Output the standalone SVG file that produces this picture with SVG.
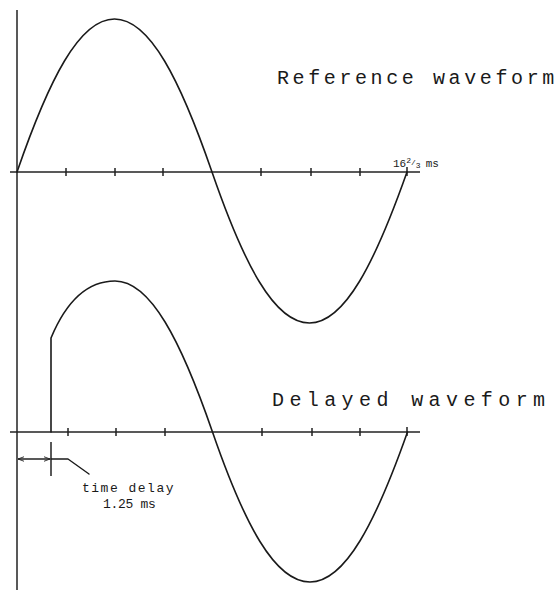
<svg xmlns="http://www.w3.org/2000/svg" width="560" height="592" viewBox="0 0 560 592">
<defs>
<style>
.ln{fill:none;stroke:#1a1a1a;stroke-width:1.6;stroke-linecap:round;stroke-linejoin:round}
.ax{fill:none;stroke:#222;stroke-width:1.5}
.tk{stroke:#222;stroke-width:1.5}
.lbl{font-family:"Liberation Mono","DejaVu Sans Mono",monospace;fill:#1a1a1a}
</style>
<marker id="ah" viewBox="0 0 8 8" refX="8" refY="4" markerWidth="6" markerHeight="6" orient="auto-start-reverse" markerUnits="userSpaceOnUse">
<path d="M0,1 L8,4 L0,7" fill="none" stroke="#222" stroke-width="1.2"/>
</marker>
</defs>
<rect width="560" height="592" fill="#fff"/>
<g id="axes">
<line class="ax" x1="17" y1="10" x2="17" y2="590"/>
<line class="ax" x1="10" y1="172" x2="420" y2="172"/>
<line class="ax" x1="10" y1="432" x2="420" y2="432"/>
<path class="tk" d="M66,168v8M115,168v8M163,168v8M261,168v8M311,168v8M360,168v8M407,167v9"/>
<path class="tk" d="M68,428v8M116,428v8M165,428v8M262,428v8M312,428v8M360,428v8M407,427v9"/>
</g>
<g id="reference-waveform">
<path class="ln" d="M17,172 C48.8,80 79.2,19 114.5,19 C149.8,19 180.2,80 212,172 C243.8,264 274.2,323 309.5,323 C344.8,323 375.2,262 407,172"/>
</g>
<g id="delayed-waveform">
<path class="ln" d="M51,432 L51,338 C66,302 86,281 115,281 C150.3,281 180.7,340 212.5,432 C244.3,524 274.7,582 310,582 C345.3,582 375.7,522 407.5,432"/>
</g>
<g id="time-delay">
<line class="tk" x1="51" y1="442" x2="51" y2="476"/>
<line class="tk" x1="34" y1="459" x2="18" y2="459" marker-end="url(#ah)"/>
<line class="tk" x1="34" y1="459" x2="50" y2="459" marker-end="url(#ah)"/>
<polyline class="ln" points="51,459 68,459 89,474" style="stroke-width:1.4"/>
<text class="lbl" x="82" y="492" font-size="13" letter-spacing="1.5">time delay</text>
<text class="lbl" x="103" y="508" font-size="13" letter-spacing="-0.3">1.25 ms</text>
</g>
<g id="labels">
<text class="lbl" x="277" y="84" font-size="20" letter-spacing="3.6">Reference waveform</text>
<text class="lbl" x="272" y="406" font-size="20" letter-spacing="5.4">Delayed waveform</text>
<text class="lbl" x="393" y="167" font-size="11">16<tspan font-size="8" dy="-4">2</tspan><tspan font-size="8" dy="2">/</tspan><tspan font-size="8" dy="3">3</tspan><tspan dy="-1" dx="5">ms</tspan></text>
</g>
</svg>
